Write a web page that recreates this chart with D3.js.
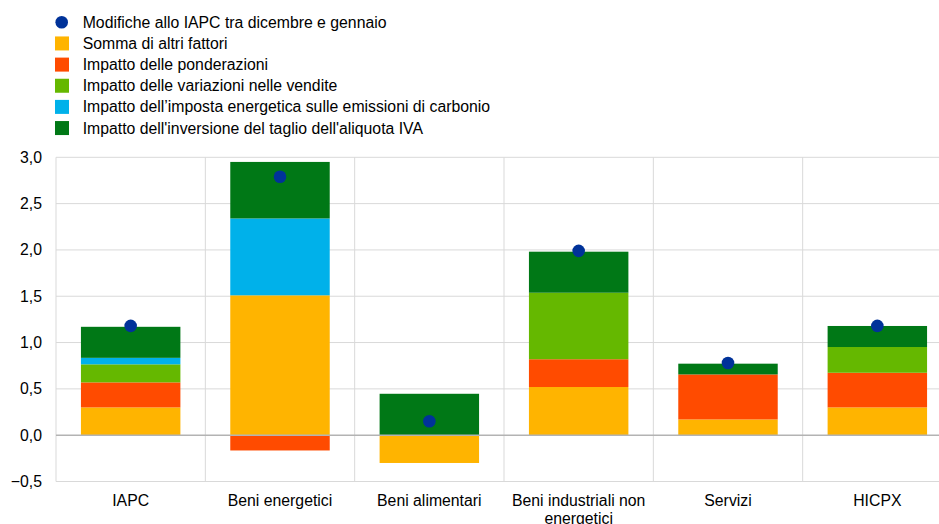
<!DOCTYPE html>
<html><head><meta charset="utf-8">
<script src="https://cdn.jsdelivr.net/npm/d3@7"></script>
<style>body{margin:0;background:#fff;overflow:hidden}svg{display:block}text{font-family:"Liberation Sans",Arial,sans-serif;fill:#000}</style>
</head><body><svg id="c" width="939" height="524"></svg>
<script>
const categories = ["IAPC","Beni energetici","Beni alimentari","Beni industriali non energetici","Servizi","HICPX"];
const categoryLines = [["IAPC"],["Beni energetici"],["Beni alimentari"],["Beni industriali non","energetici"],["Servizi"],["HICPX"]];
const seriesNames = ["Somma di altri fattori","Impatto delle ponderazioni","Impatto delle variazioni nelle vendite","Impatto dell\u2019imposta energetica sulle emissioni di carbonio","Impatto dell'inversione del taglio dell'aliquota IVA"];
const dotName = "Modifiche allo IAPC tra dicembre e gennaio";
const altriFattori = [0.30, 1.51, -0.30, 0.52, 0.17, 0.30];
const ponderazioni = [0.27, -0.165, 0.00, 0.30, 0.486, 0.374];
const vendite = [0.195, 0.00, 0.00, 0.718, 0.00, 0.278];
const impostaCarbonio = [0.07, 0.83, 0.00, 0.00, 0.00, 0.00];
const inversioneIVA = [0.335, 0.61, 0.447, 0.443, 0.116, 0.227];
const modificheIAPC = [1.18, 2.79, 0.15, 1.99, 0.78, 1.18];
const yTicks = [-0.5, 0, 0.5, 1.0, 1.5, 2.0, 2.5, 3.0];
const colors = ["#FFB400","#FF4B00","#65B800","#00B1EA","#007816"];
const dotColor = "#003299";

const series = [altriFattori, ponderazioni, vendite, impostaCarbonio, inversioneIVA];
const svg = d3.select("#c");
const pL = 56, pR = 952, pT = 157.3, pB = 481.5;
const FS = 15.8;
const x = d3.scaleBand().domain(categories).range([pL, pR]).padding(0);
const y = d3.scaleLinear().domain([-0.5, 3.0]).range([pB, pT]);
const fmt = v => d3.format(".1f")(v).replace(".", ",");

// gridlines
const g = svg.append("g");
g.selectAll("line.h").data(yTicks.filter(t => t !== 0)).join("line")
  .attr("x1", pL).attr("x2", 939).attr("y1", d => y(d)).attr("y2", d => y(d))
  .attr("stroke", "#d9d9d9").attr("stroke-width", 1);
g.selectAll("line.v").data(categories).join("line")
  .attr("x1", d => x(d)).attr("x2", d => x(d)).attr("y1", pT).attr("y2", pB)
  .attr("stroke", "#d9d9d9").attr("stroke-width", 1);

// stacked bars
const bw = x.bandwidth() * 0.666;
categories.forEach((c, i) => {
  let pos = 0, neg = 0;
  series.forEach((s, k) => {
    const v = s[i];
    if (!v) return;
    let y0, y1;
    if (v >= 0) { y0 = pos; y1 = pos + v; pos = y1; }
    else { y0 = neg + v; y1 = neg; neg = y0; }
    svg.append("rect")
      .attr("x", x(c) + (x.bandwidth() - bw) / 2).attr("width", bw)
      .attr("y", y(y1)).attr("height", y(y0) - y(y1))
      .attr("fill", colors[k]);
  });
});

// zero line
svg.append("line").attr("x1", pL).attr("x2", 939).attr("y1", y(0)).attr("y2", y(0))
  .attr("stroke", "#b3b3b3").attr("stroke-width", 1.5);

// dots
svg.selectAll("circle.dot").data(modificheIAPC).join("circle")
  .attr("cx", (d, i) => x(categories[i]) + x.bandwidth() / 2).attr("cy", d => y(d))
  .attr("r", 6.3).attr("fill", dotColor);

// y axis labels
const yAxis = d3.axisLeft(y).tickValues(yTicks).tickFormat(fmt).tickSize(0).tickPadding(14);
const ya = svg.append("g").attr("transform", `translate(${pL},0)`).call(yAxis);
ya.select(".domain").remove();
ya.selectAll("text").attr("font-size", FS).attr("fill", "#000")
  .attr("font-family", "'Liberation Sans', Arial, sans-serif");

// x labels
const xl = svg.append("g");
categoryLines.forEach((lines, i) => {
  const t = xl.append("text").attr("x", x(categories[i]) + x.bandwidth() / 2).attr("y", 506)
    .attr("text-anchor", "middle").attr("font-size", FS);
  lines.forEach((l, j) => t.append("tspan").attr("x", x(categories[i]) + x.bandwidth() / 2)
    .attr("dy", j === 0 ? 0 : 18).text(l));
});

// legend
const leg = svg.append("g");
const rowY = d => 22.3 + d * 21.15;
leg.append("circle").attr("cx", 61.7).attr("cy", rowY(0)).attr("r", 6.3).attr("fill", dotColor);
leg.append("text").attr("x", 82.7).attr("y", rowY(0) + 5.5).attr("font-size", FS).text(dotName);
seriesNames.forEach((n, k) => {
  leg.append("rect").attr("x", 55).attr("y", rowY(k + 1) - 7).attr("width", 14).attr("height", 14).attr("fill", colors[k]);
  leg.append("text").attr("x", 82.7).attr("y", rowY(k + 1) + 5.5).attr("font-size", FS).text(n);
});
</script></body></html>
